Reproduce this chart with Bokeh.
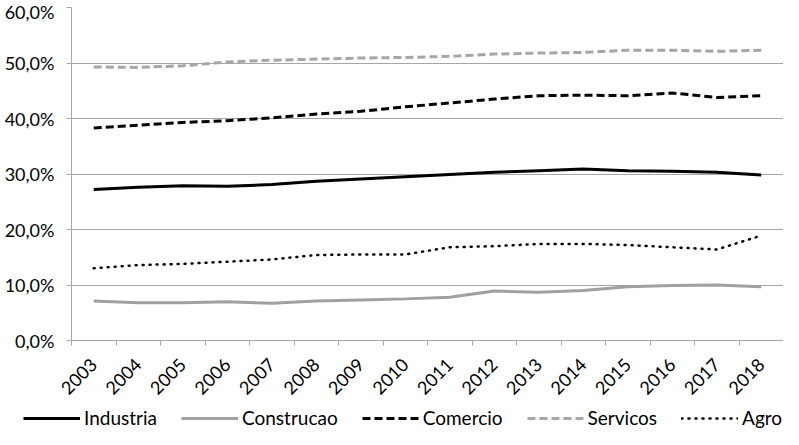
import math
from bokeh.plotting import figure
from bokeh.models import FixedTicker, Legend, LegendItem, Range1d
from bokeh.embed import file_html
from bokeh.resources import INLINE

years = [2003, 2004, 2005, 2006, 2007, 2008, 2009, 2010, 2011, 2012, 2013, 2014, 2015, 2016, 2017, 2018]
industria = [27.2, 27.6, 27.9, 27.8, 28.1, 28.7, 29.1, 29.5, 29.9, 30.3, 30.6, 30.9, 30.6, 30.5, 30.3, 29.8]
construcao = [7.1, 6.8, 6.8, 7.0, 6.7, 7.1, 7.3, 7.5, 7.8, 8.9, 8.7, 9.0, 9.7, 9.9, 10.0, 9.7]
comercio = [38.3, 38.8, 39.3, 39.6, 40.1, 40.8, 41.3, 42.1, 42.8, 43.5, 44.1, 44.2, 44.1, 44.6, 43.8, 44.1]
servicos = [49.3, 49.2, 49.5, 50.2, 50.5, 50.7, 50.9, 51.0, 51.2, 51.6, 51.8, 51.9, 52.3, 52.3, 52.1, 52.3]
agro = [13.0, 13.6, 13.8, 14.2, 14.6, 15.4, 15.5, 15.5, 16.8, 17.0, 17.4, 17.4, 17.2, 16.8, 16.4, 18.9]

series_names = ["Industria", "Construcao", "Comercio", "Servicos", "Agro"]

y_ticks = [0, 10, 20, 30, 40, 50, 60]
y_tick_labels = ["0,0%", "10,0%", "20,0%", "30,0%", "40,0%", "50,0%", "60,0%"]

FONT = "Lato"
GRAY = "#A6A6A6"

styles = [
    dict(line_color="black", line_width=3),
    dict(line_color="#A0A0A0", line_width=3),
    dict(line_color="black", line_width=3, line_dash="8 4"),
    dict(line_color="#A6A6A6", line_width=3, line_dash="8 4"),
    dict(line_color="black", line_width=2.5, line_dash="1 6", line_cap="round"),
]
all_series = [industria, construcao, comercio, servicos, agro]

p = figure(width=783, height=407, output_backend="svg", toolbar_location=None,
           x_range=Range1d(years[0] - 0.5, years[-1] + 0.5), y_range=Range1d(0, 60),
           min_border_left=71, min_border_right=0, min_border_top=7, min_border_bottom=67)
p.outline_line_color = None
p.background_fill_color = "white"
p.border_fill_color = "white"

# y axis
p.yaxis.ticker = FixedTicker(ticks=y_ticks)
p.yaxis.major_label_overrides = {t: l for t, l in zip(y_ticks, y_tick_labels)}
p.yaxis.minor_tick_line_color = None
p.yaxis.major_tick_out = 5
p.yaxis.major_tick_in = 0
p.yaxis.major_tick_line_color = GRAY
p.yaxis.axis_line_color = GRAY
p.yaxis.major_label_standoff = 12
p.yaxis.major_label_text_font = FONT
p.yaxis.major_label_text_font_size = "18px"
p.yaxis.major_label_text_color = "#000000"

# x axis
p.xaxis.ticker = FixedTicker(ticks=years, minor_ticks=[y - 0.5 for y in years] + [years[-1] + 0.5])
p.xaxis.major_tick_line_color = None
p.xaxis.minor_tick_out = 5
p.xaxis.minor_tick_in = 0
p.xaxis.minor_tick_line_color = GRAY
p.xaxis.axis_line_color = GRAY
p.xaxis.major_label_orientation = math.pi / 4
p.xaxis.major_label_standoff = 15
p.xaxis.major_label_text_font = FONT
p.xaxis.major_label_text_font_size = "18px"
p.xaxis.major_label_text_color = "#000000"

p.xgrid.grid_line_color = None
p.ygrid.ticker = FixedTicker(ticks=y_ticks)
p.ygrid.grid_line_color = GRAY
p.ygrid.grid_line_width = 1

for vals, st in zip(all_series, styles):
    p.line(years, vals, **st)

# legend strip below the chart (its series lie outside this strip's visible ranges)
lg = figure(width=783, height=22, output_backend="svg", toolbar_location=None,
            x_axis_type=None, y_axis_type=None,
            x_range=Range1d(0, 1), y_range=Range1d(0, 1),
            min_border_left=0, min_border_right=0, min_border_top=0, min_border_bottom=0)
lg.grid.visible = False
lg.outline_line_color = None
items = []
for name, vals, st in zip(series_names, all_series, styles):
    r = lg.line(years, vals, **st)
    items.append(LegendItem(label=name, renderers=[r]))
legend = Legend(items=items, orientation="horizontal", location=(23, 0),
                glyph_width=57, glyph_height=22, label_standoff=4, spacing=24,
                padding=0, margin=0, border_line_color=None, background_fill_alpha=0,
                label_text_font=FONT, label_text_font_size="19px", label_text_color="#000000")
lg.add_layout(legend, "center")

open("out.html", "w").write(file_html([p, lg], INLINE))
